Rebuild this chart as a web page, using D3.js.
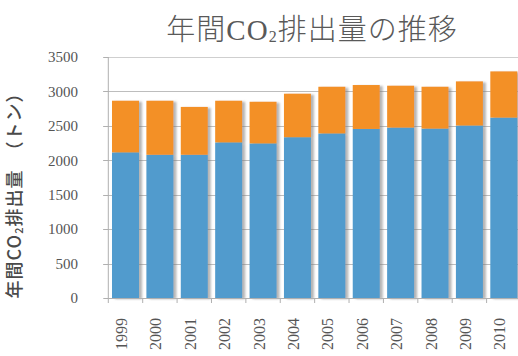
<!DOCTYPE html>
<html>
<head>
<meta charset="utf-8">
<script src="https://cdn.jsdelivr.net/npm/d3@7"></script>
<style>
  html, body { margin: 0; padding: 0; background: #fff; overflow: hidden; }
  svg { display: block; }
</style>
</head>
<body>
<svg id="chart" width="518" height="356"></svg>
<script>
// Annual CO2 emissions, stacked in two parts (tons)
const years = ["1999","2000","2001","2002","2003","2004","2005","2006","2007","2008","2009","2010"];
const baseValues = [2115, 2080, 2080, 2260, 2245, 2335, 2390, 2455, 2475, 2460, 2505, 2620];
const upperValues = [750, 785, 695, 605, 605, 632, 678, 638, 608, 608, 641, 671];
const yTicks = [0, 500, 1000, 1500, 2000, 2500, 3000, 3500];

const colors = { base: "#519BCD", upper: "#F39028" };

const svg = d3.select("#chart");
const W = 518, H = 356;
const plot = { left: 108.3, right: 521, top: 57, bottom: 298 };

const x = d3.scaleBand().domain(years).range([plot.left, plot.right]).paddingInner(0.215).paddingOuter(0.1075);
const y = d3.scaleLinear().domain([0, 3500]).range([plot.bottom, plot.top]);

// Soft shadow to the right of each bar
const defs = svg.append("defs");
const f = defs.append("filter").attr("id", "shadow").attr("x", "-20%").attr("y", "-10%").attr("width", "150%").attr("height", "120%");
f.append("feDropShadow").attr("dx", 3).attr("dy", 1).attr("stdDeviation", 1.3)
  .attr("flood-color", "#7a7a7a").attr("flood-opacity", 0.55);

// Horizontal gridlines
svg.append("g").selectAll("line").data(yTicks.filter(d => d > 0)).join("line")
  .attr("x1", plot.left - 5).attr("x2", W)
  .attr("y1", d => Math.round(y(d)) + 0.5).attr("y2", d => Math.round(y(d)) + 0.5)
  .attr("stroke", d => d === 3500 ? "#cfcfcf" : "#bdbdbd").attr("stroke-width", 1);

// Stacked bars
const stackData = years.map((yr, i) => ({ year: yr, base: baseValues[i], upper: upperValues[i] }));
const series = d3.stack().keys(["base", "upper"])(stackData);

const barG = svg.append("g").attr("filter", "url(#shadow)");
series.forEach(s => {
  barG.append("g").attr("fill", colors[s.key])
    .selectAll("rect").data(s).join("rect")
    .attr("x", d => x(d.data.year))
    .attr("width", x.bandwidth())
    .attr("y", d => y(d[1]))
    .attr("height", d => y(d[0]) - y(d[1]));
});

// Y axis
const yAxis = svg.append("g");
yAxis.append("line").attr("x1", plot.left).attr("x2", plot.left)
  .attr("y1", plot.top).attr("y2", plot.bottom).attr("stroke", "#b0b0b0");
yAxis.selectAll("line.tick").data(yTicks).join("line").attr("class", "tick")
  .attr("x1", plot.left - 5).attr("x2", plot.left)
  .attr("y1", d => Math.round(y(d)) + 0.5).attr("y2", d => Math.round(y(d)) + 0.5)
  .attr("stroke", "#b0b0b0");
yAxis.selectAll("text").data(yTicks).join("text")
  .attr("x", 78).attr("y", d => y(d)).attr("dy", "0.35em")
  .attr("text-anchor", "end")
  .attr("font-family", "'Liberation Serif', 'DejaVu Serif', serif")
  .attr("font-size", 15).attr("fill", "#555")
  .text(d => d);

// X axis
const xAxis = svg.append("g");
xAxis.append("line").attr("x1", plot.left).attr("x2", W)
  .attr("y1", plot.bottom + 0.5).attr("y2", plot.bottom + 0.5).attr("stroke", "#b0b0b0");
const edges = years.map(d => x(d) - x.step() * x.paddingInner() / 2);
xAxis.selectAll("line.tick").data(edges).join("line").attr("class", "tick")
  .attr("x1", d => d).attr("x2", d => d)
  .attr("y1", plot.bottom).attr("y2", plot.bottom + 5).attr("stroke", "#b0b0b0");
xAxis.selectAll("text").data(years).join("text")
  .attr("transform", d => `translate(${x(d) + x.bandwidth() / 2 - 4},318) rotate(-90)`)
  .attr("dy", "0.35em").attr("text-anchor", "end")
  .attr("font-family", "'Liberation Serif', 'DejaVu Serif', serif")
  .attr("font-size", 16).attr("fill", "#555")
  .text(d => d);

// Title
const title = svg.append("text")
  .attr("x", 312).attr("y", 40).attr("text-anchor", "middle")
  .attr("font-family", "'Liberation Serif', 'Noto Sans CJK JP', serif")
  .attr("font-weight", 300)
  .attr("letter-spacing", 1)
  .attr("font-size", 29).attr("fill", "#595959");
title.append("tspan").text("年間CO");
title.append("tspan").attr("font-size", 16).attr("dy", 2).text("2");
title.append("tspan").attr("dy", -2).text("排出量の推移");

// Y axis title
const yTitle = svg.append("text")
  .attr("transform", "translate(21,191) rotate(-90)")
  .attr("text-anchor", "middle")
  .attr("font-family", "'Noto Sans CJK JP', sans-serif")
  .attr("font-weight", 500)
  .attr("font-size", 18).attr("letter-spacing", 1)
  .attr("fill", "#4a4a4a");
yTitle.append("tspan").text("年間CO");
yTitle.append("tspan").attr("font-size", 11).attr("dy", 2).text("2");
yTitle.append("tspan").attr("dy", -2).text("排出量　（トン）");
</script>
</body>
</html>
